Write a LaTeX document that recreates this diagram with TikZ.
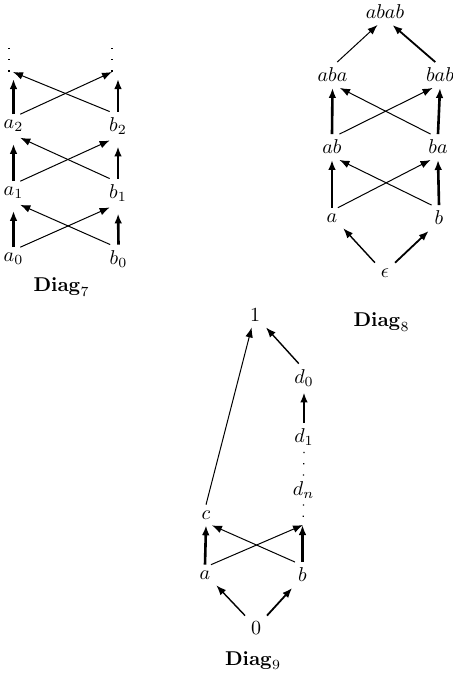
\documentclass[tikz,border=0pt]{standalone}
\usetikzlibrary{arrows.meta}
\begin{document}
\begin{tikzpicture}[x=0.5pt,y=-0.5pt,
  lab/.style={inner sep=0pt, outer sep=3pt},
  ttl/.style={inner sep=0pt, anchor=base},
  dotcol/.style={inner sep=0pt, outer sep=0pt, minimum height=12pt, minimum width=1pt},
  hid/.style={inner sep=0pt, outer sep=0pt, minimum size=0pt},
  tip/.style={-{Latex[length=5pt,width=3.8pt]}},
  thinarr/.style={tip, line width=0.5pt},
  medarr/.style={tip, line width=0.7pt},
  boldarr/.style={tip, line width=0.9pt},
  thickarr/.style={tip, line width=1.3pt},
  dotline/.style={line width=0.6pt, dash pattern=on 0.6pt off 5pt}]
\useasboundingbox (0,0) rectangle (453,675);

% ---------- Diag 7 ----------
\node[lab] (a0) at (13.5,259) {$a_0$};
\node[lab] (b0) at (118.5,259) {$b_0$};
\node[lab] (a1) at (13.5,193) {$a_1$};
\node[lab] (b1) at (118,193) {$b_1$};
\node[lab] (a2) at (13.5,126) {$a_2$};
\node[lab] (b2) at (118,126) {$b_2$};
\node[dotcol] (a3) at (9,60) {};
\node[dotcol] (b3) at (112,60) {};
\draw[dotline] (a3.north) -- (a3.south);
\draw[dotline] (b3.north) -- (b3.south);
\node[ttl] (l7) at (61.5,291.5) {$\mathbf{Diag}_7$};

\draw[thickarr, shorten >=3pt] (a0.north) -- (a1.south);
\draw[thickarr, shorten >=3pt] (b0.north) -- (b1.south);
\draw[thickarr, shorten >=3pt] (a1.north) -- (a2.south);
\draw[thickarr, shorten >=3pt] (b1.north) -- (b2.south);
\draw[thickarr, shorten >=3.5pt] (a2.north) -- (a2.north |- a3.south);
\draw[thickarr, shorten >=3.5pt] (b2.north) -- (b2.north |- b3.south);
\draw[thinarr] (a0.60) -- (b1.-120);
\draw[thinarr] (b0.120) -- (a1.-60);
\draw[thinarr] (a1.60) -- (b2.-120);
\draw[thinarr] (b1.120) -- (a2.-60);
\draw[thinarr] (a2.60) -- (b3.south);
\draw[thinarr] (b2.120) -- ([xshift=2pt]a3.south);

% ---------- Diag 8 ----------
\node[lab] (abab) at (385,12) {$abab$};
\node[lab] (aba) at (332.5,75) {$aba$};
\node[lab] (bab) at (440,75) {$bab$};
\node[lab] (ab) at (332,147) {$ab$};
\node[lab] (ba) at (438,147) {$ba$};
\node[lab] (pa) at (332,218) {$a$};
\node[lab] (pb) at (439,218) {$b$};
\node[lab] (eps) at (385,273) {$\epsilon$};
\node[ttl] (l8) at (381.5,326.5) {$\mathbf{Diag}_8$};

\draw[medarr] (eps.north west) -- (pa.south east);
\draw[boldarr] (eps.north east) -- (pb.south west);
\draw[thickarr] (pa.north) -- (ab.south);
\draw[thickarr] (pb.north) -- (ba.south);
\draw[thinarr] (pa.60) -- (ba.-120);
\draw[thinarr] (pb.120) -- (ab.-60);
\draw[thickarr] (ab.north) -- (aba.south);
\draw[thickarr] (ba.north) -- (bab.south);
\draw[thinarr] (ab.60) -- (bab.-120);
\draw[thinarr] (ba.120) -- (aba.-60);
\draw[thinarr] (aba.70) -- (abab.-120);
\draw[boldarr] (bab.110) -- (abab.-60);

% ---------- Diag 9 ----------
\node[lab] (one) at (255,315) {$1$};
\node[lab] (d0) at (304,378) {$d_0$};
\node[lab] (d1) at (304,437.5) {$d_1$};
\node[lab] (dn) at (303.5,490) {$d_n$};
\node[lab] (c) at (206,515) {$c$};
\node[lab] (qa) at (205,575) {$a$};
\node[lab] (qb) at (302.5,575) {$b$};
\node[lab] (zero) at (256,628) {$0$};
\node[hid] (e) at (303,525) {};
\node[ttl] (l9) at (253,665) {$\mathbf{Diag}_9$};

\draw[medarr] (zero.north west) -- (qa.south east);
\draw[boldarr] (zero.north east) -- (qb.south west);
\draw[thickarr] (qa.north) -- (c.south);
\draw[thickarr] (qb.north) -- (qb.north |- e);
\draw[thinarr] (qa.60) -- (e);
\draw[thinarr] (qb.120) -- (c.-60);
\draw[thinarr] (c.north) -- (one.-105);
\draw[medarr] (d0.110) -- (one.south east);
\draw[thickarr] (d1.north) -- (d0.south);
\draw[dotline] (d1.south) -- (dn.north);
\draw[dotline, shorten >=4pt] (dn.south) -- (e);
\end{tikzpicture}
\end{document}
